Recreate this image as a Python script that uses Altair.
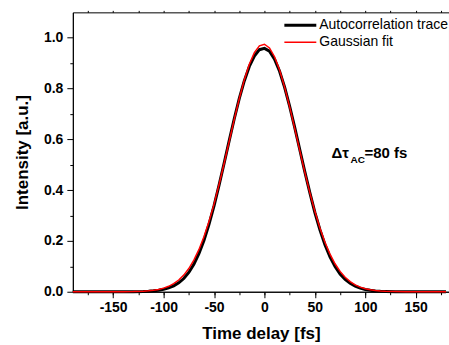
import altair as alt
import pandas as pd

# Time delay [fs]
delay = [-190, -170, -150, -140, -130, -120, -115, -110, -105, -100, -95, -90, -85, -80, -75,
         -70, -65, -60, -55, -50, -45, -40, -35, -30, -25, -20, -15, -10, -5, 0,
         5, 10, 15, 20, 25, 30, 35, 40, 45, 50, 55, 60, 65, 70, 75,
         80, 85, 90, 95, 100, 105, 110, 115, 120, 130, 140, 150, 160, 170, 180]

# Autocorrelation trace (black)
trace = [0.0, 0.0, 0.0, 0.0001, 0.0004, 0.0012, 0.0021, 0.0035, 0.006, 0.0095, 0.015, 0.023, 0.035, 0.052, 0.076,
         0.108, 0.150, 0.202, 0.265, 0.338, 0.420, 0.506, 0.594, 0.680, 0.760, 0.830, 0.887, 0.928, 0.953, 0.958,
         0.947, 0.916, 0.868, 0.805, 0.730, 0.647, 0.560, 0.473, 0.390, 0.312, 0.244, 0.185, 0.137, 0.099, 0.070,
         0.049, 0.033, 0.022, 0.014, 0.009, 0.0055, 0.0033, 0.002, 0.0012, 0.0004, 0.0001, 0.0, 0.0, 0.0, 0.0]

# Gaussian fit (red)
fit = [0.0, 0.0, 0.0001, 0.0002, 0.0007, 0.0021, 0.0035, 0.0057, 0.0091, 0.0141, 0.0214, 0.0317, 0.0461, 0.0655, 0.0912,
       0.1244, 0.1657, 0.2163, 0.2762, 0.3451, 0.4221, 0.5050, 0.5914, 0.6776, 0.7600, 0.8340, 0.8958, 0.9415, 0.9683, 0.9746,
       0.9600, 0.9253, 0.8728, 0.8057, 0.7278, 0.6434, 0.5566, 0.4712, 0.3904, 0.3166, 0.2512, 0.1950, 0.1482, 0.1102, 0.0801,
       0.0570, 0.0398, 0.0271, 0.0181, 0.0118, 0.0076, 0.0047, 0.0029, 0.0017, 0.0006, 0.0002, 0.0001, 0.0, 0.0, 0.0]

series_names = ["Autocorrelation trace", "Gaussian fit"]
series_colors = ["#000000", "#ff0000"]

x_major = [-150, -100, -50, 0, 50, 100, 150]
x_minor = [-175, -150, -125, -100, -75, -50, -25, 0, 25, 50, 75, 100, 125, 150, 175]
y_major = [0.0, 0.2, 0.4, 0.6, 0.8, 1.0]
y_minor = [0.1, 0.3, 0.5, 0.7, 0.9]

annot_x = 66.6
annot_y = 0.526

FONT = "Liberation Sans"

df = pd.DataFrame({"delay": delay, "trace": trace, "fit": fit})

xscale = alt.Scale(domain=[-190, 183], nice=False, zero=False)
yscale = alt.Scale(domain=[0, 1.1], nice=False, zero=False)

x_main = alt.X("delay:Q", scale=xscale,
               axis=alt.Axis(values=x_major, title="Time delay [fs]", orient="bottom",
                             tickSize=6, labelPadding=3, titlePadding=11,
                             labelExpr="toString(datum.value)"))
y_main = alt.Y("trace:Q", scale=yscale,
               axis=alt.Axis(values=y_major, title="Intensity [a.u.]", orient="left",
                             tickSize=6, labelPadding=4, titlePadding=12, format=".1f"))

black = alt.Chart(df).mark_line(color=series_colors[0], strokeWidth=3).encode(x=x_main, y=y_main)

red = alt.Chart(df).mark_line(color=series_colors[1], strokeWidth=1.5).encode(
    x=alt.X("delay:Q", scale=xscale, axis=None),
    y=alt.Y("fit:Q", scale=yscale, axis=None),
)

minor = alt.Chart(df).mark_line(opacity=0).encode(
    x=alt.X("delay:Q", scale=xscale,
            axis=alt.Axis(values=x_minor, labels=False, title=None, domain=False,
                          tickSize=3, orient="bottom")),
    y=alt.Y("fit:Q", scale=yscale,
            axis=alt.Axis(values=y_minor, labels=False, title=None, domain=False,
                          tickSize=3, orient="left")),
)

top = alt.Chart(df).mark_line(opacity=0).encode(
    x=alt.X("delay:Q", scale=xscale,
            axis=alt.Axis(values=x_minor, labels=False, title=None, domain=False,
                          tickSize=2, orient="top")),
    y=alt.Y("fit:Q", scale=yscale, axis=None),
)

# annotation
ann_df = pd.DataFrame({"x": [annot_x], "y": [annot_y]})
ann_base = alt.Chart(ann_df).encode(x=alt.X("x:Q", scale=xscale, axis=None),
                                    y=alt.Y("y:Q", scale=yscale, axis=None))
ann1 = ann_base.mark_text(text="Δτ", align="left", baseline="alphabetic", font=FONT,
                          fontWeight="bold", fontSize=15, color="black")
ann2 = ann_base.mark_text(text="AC", align="left", baseline="alphabetic", font=FONT,
                          fontWeight="bold", fontSize=10, color="black", dx=19, dy=5)
ann3 = ann_base.mark_text(text="=80 fs", align="left", baseline="alphabetic", font=FONT,
                          fontWeight="bold", fontSize=15, color="black", dx=33)

# legend
leg_df = pd.DataFrame({"name": series_names})
leg_layers = []
for i, (nm, col, sw) in enumerate(zip(series_names, series_colors, [3, 1.5])):
    yy = 13 + 17 * i
    leg_layers.append(alt.Chart(leg_df.iloc[[i]]).mark_rule(color=col, strokeWidth=sw).encode(
        x=alt.value(212), x2=alt.value(244), y=alt.value(yy)))
    leg_layers.append(alt.Chart(leg_df.iloc[[i]]).mark_text(
        align="left", baseline="middle", font=FONT, fontSize=14, color="black").encode(
        x=alt.value(247), y=alt.value(yy), text="name:N"))

chart = alt.layer(black, red, minor, top, ann1, ann2, ann3, *leg_layers).resolve_axis(
    x="independent", y="independent"
).properties(
    width=377, height=280,
    autosize=alt.AutoSizeParams(type="none"),
    padding={"left": 73, "top": 12, "right": 0, "bottom": 54},
).configure_view(
    stroke="black", strokeWidth=1
).configure_axis(
    labelFont=FONT, labelFontWeight="bold", labelFontSize=14, labelColor="black",
    titleFont=FONT, titleFontWeight="bold", titleFontSize=17, titleColor="black",
    tickColor="black", domainColor="black", grid=False, tickWidth=1, domainWidth=1,
)

chart.save("out.html", embed_options={"renderer": "svg", "actions": False})
